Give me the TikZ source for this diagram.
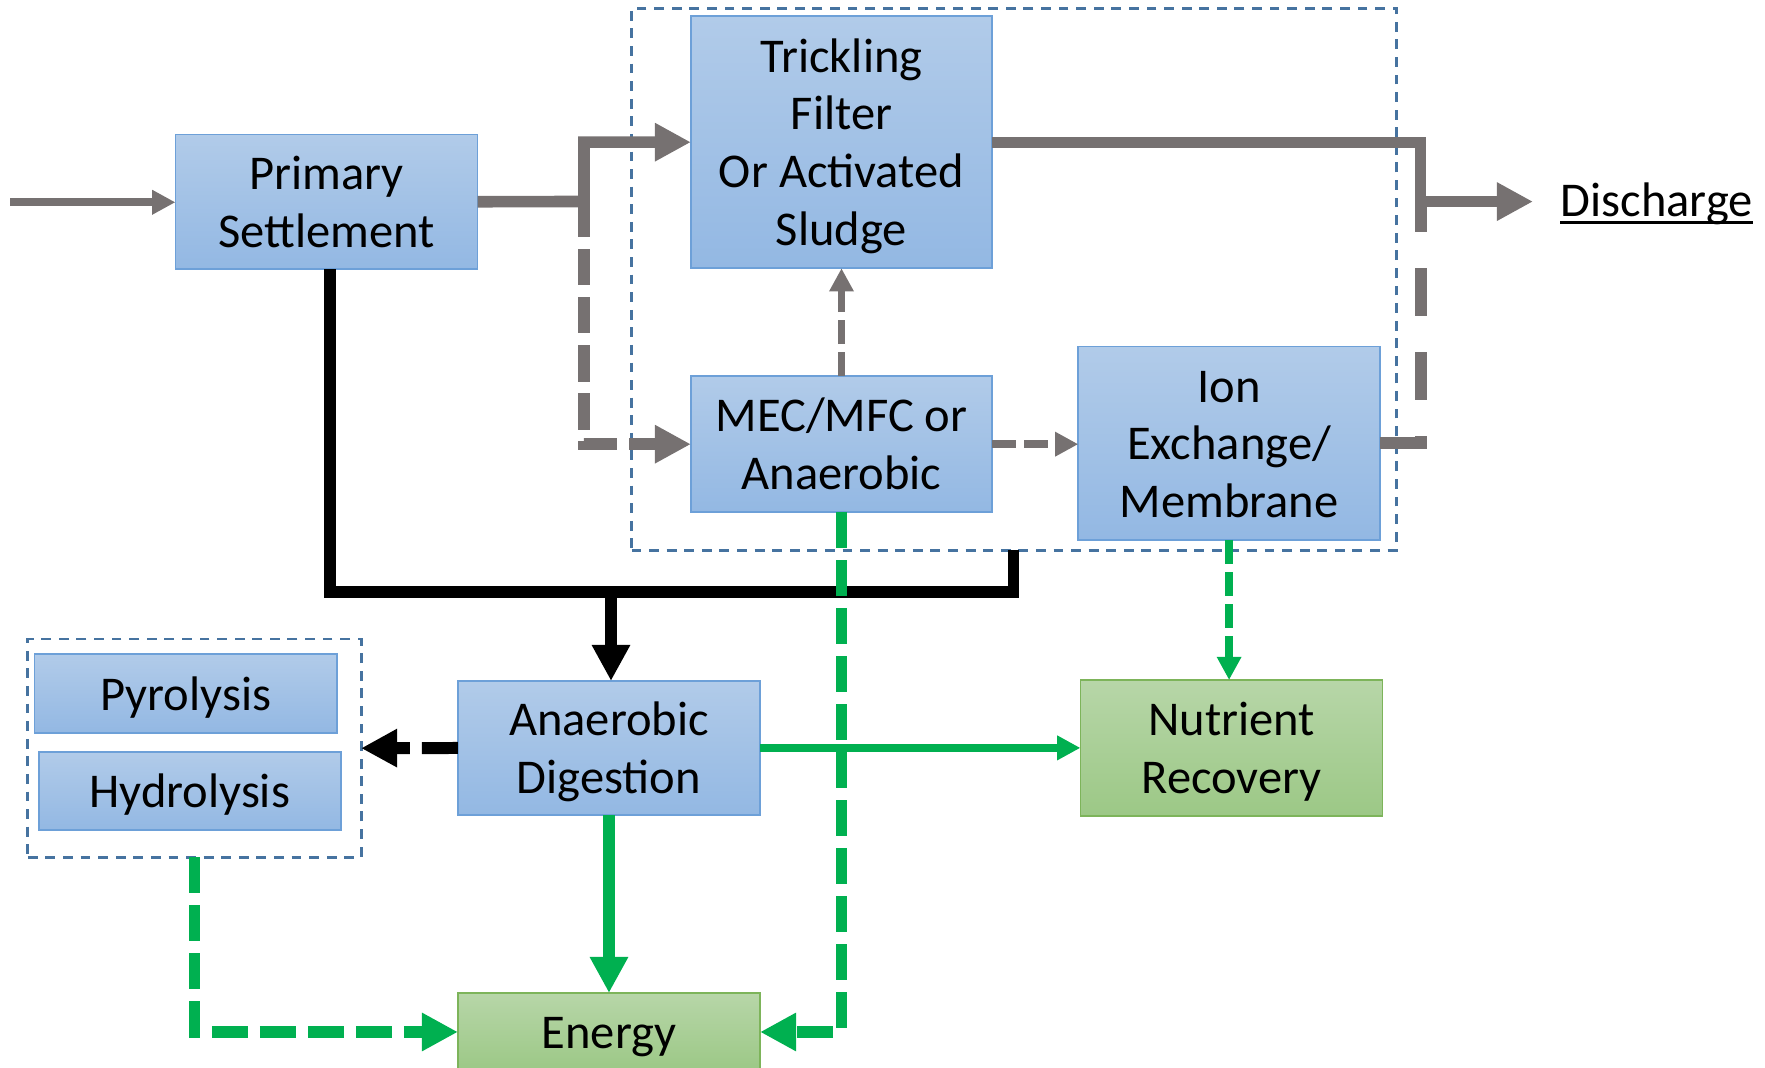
\documentclass[tikz,border=0pt]{standalone}
\usepackage{fontspec}
\setmainfont{Carlito}
\usetikzlibrary{arrows.meta}

\definecolor{boxtop}{RGB}{177,203,233}
\definecolor{boxbot}{RGB}{147,184,227}
\definecolor{boxline}{RGB}{109,160,216}
\definecolor{gtop}{RGB}{183,214,168}
\definecolor{gbot}{RGB}{156,200,134}
\definecolor{gline}{RGB}{125,180,90}
\definecolor{flowgray}{RGB}{118,113,113}
\definecolor{flowgreen}{RGB}{0,176,80}
\definecolor{grpline}{RGB}{70,115,160}

% line-box struts: full ascent on the first line, full descent on the last
\newcommand\topstrut{\rule{0pt}{0.952em}}
\newcommand\botstrut{\rule[-0.269em]{0pt}{0pt}}

\begin{document}
\begin{tikzpicture}[x=0.01cm,y=-0.01cm,
  font=\fontsize{13.8pt}{16.4pt}\selectfont,
  unit/.style={draw=boxline, line width=0.5pt, top color=boxtop, bottom color=boxbot,
               align=center, inner sep=0pt, outer sep=0pt},
  product/.style={unit, draw=gline, top color=gtop, bottom color=gbot},
  group/.style={draw=grpline, line width=0.8pt, dash pattern=on 2.8pt off 2.2pt,
                inner sep=0pt, outer sep=0pt},
  bigtip/.style={-{Triangle[length=10.24pt,width=10.24pt]}},
  smalltip/.style={-{Triangle[length=6.6pt,width=6.6pt]}},
  heavy/.style={line width=3.41pt},
  light/.style={line width=2.2pt},
  sysdash/.style={dash pattern=on 10.24pt off 3.41pt},
  sysdashthin/.style={dash pattern=on 6.83pt off 2.28pt},
  longdash/.style={dash pattern=on 13.66pt off 10.24pt},
]
\useasboundingbox (0,0) rectangle (1765,1068);

% dashed groupings
\node[group, minimum width=7.646cm, minimum height=5.417cm] (core) at (1014.1,279.2) {};
\node[group, minimum width=3.33cm, minimum height=2.183cm] (thermal) at (194.5,748.2) {};

% process units
\node[unit, minimum width=3.02cm, minimum height=1.345cm] (primary) at (326.5,201.75) {\topstrut Primary\\Settlement\botstrut};
\node[unit, minimum width=3.01cm, minimum height=2.52cm] (trick) at (841.5,142.2) {\topstrut Trickling\\Filter\\Or Activated\\Sludge\botstrut};
\node[unit, minimum width=3.01cm, minimum height=1.36cm] (mec) at (841.5,444.2) {\topstrut MEC/MFC or\\Anaerobic\botstrut};
\node[unit, minimum width=3.014cm, minimum height=1.933cm] (ion) at (1229.1,443.3) {\topstrut Ion\\Exchange/\\Membrane\botstrut};
\node[unit, minimum width=3.02cm, minimum height=1.34cm] (ad) at (609,748) {\topstrut Anaerobic\\Digestion\botstrut};
\node[unit, minimum width=3.02cm, minimum height=0.784cm] (pyro) at (185.7,693.5) {\topstrut Pyrolysis\botstrut};
\node[unit, minimum width=3.02cm, minimum height=0.78cm] (hydro) at (189.8,791) {\topstrut Hydrolysis\botstrut};

% recovered products
\node[product, minimum width=3.02cm, minimum height=1.357cm] (nutr) at (1231.5,747.9) {\topstrut Nutrient\\Recovery\botstrut};
\node[product, minimum width=3.02cm, minimum height=0.78cm] (energy) at (609,1032) {\topstrut Energy\botstrut};

% effluent label, underlined
\node[anchor=base west, inner sep=0pt] (dis) at (1560,216.4) {Discharge};
\draw[line width=0.85pt] ([yshift=-0.058cm]dis.base west) -- ([yshift=-0.058cm]dis.base east);

% junction points
\coordinate (inflow) at (10,202.3);
\coordinate (split) at (584,201.5);
\coordinate (merge) at (1420.5,201.6);
\coordinate (sludge) at (611,592.5);
\coordinate (recycle) at (1013.5,550);

% liquid line
\draw[flowgray, light, smalltip] (inflow) -- (inflow -| primary.west);
\draw[flowgray, line width=3.3pt, bigtip] (primary.east) -- (split) -- (split |- trick.west) -- (trick.west);
\draw[flowgray, heavy, sysdash, bigtip] (split) -- (split |- mec.west) -- (mec.west);
\draw[flowgray, light, sysdashthin, smalltip] (mec.north) -- (trick.south);
\draw[flowgray, light, sysdashthin, smalltip] (mec.east) -- (mec.east -| ion.west);
\draw[flowgray, line width=3.2pt, bigtip] (trick.east) -- (trick.east -| merge) -- (merge)
  -- ([xshift=-0.27cm]merge -| dis.west);
\draw[flowgray, heavy, longdash] (ion.east) -- (ion.east -| merge) -- (merge);

% sludge line
\draw[black, heavy] ([xshift=0.035cm]primary.south) -- ([xshift=0.035cm]primary.south |- sludge)
  -- (sludge -| recycle) -- (recycle);
\draw[black, heavy, bigtip] (sludge) -- (sludge |- ad.north);
\draw[black, heavy, sysdash, bigtip] (ad.west) -- (thermal.east);

% resource recovery
\draw[flowgreen, light, smalltip] (ad.east) -- (nutr.west);
\draw[flowgreen, heavy, bigtip] (ad.south) -- (energy.north);
\draw[flowgreen, heavy, sysdash, bigtip] (mec.south) -- (mec.south |- energy.east) -- (energy.east);
\draw[flowgreen, light, sysdashthin, smalltip] (ion.south) -- (ion.south |- nutr.north);
\draw[flowgreen, heavy, sysdash, bigtip] (thermal.south) -- (thermal.south |- energy.west) -- (energy.west);
\end{tikzpicture}
\end{document}
